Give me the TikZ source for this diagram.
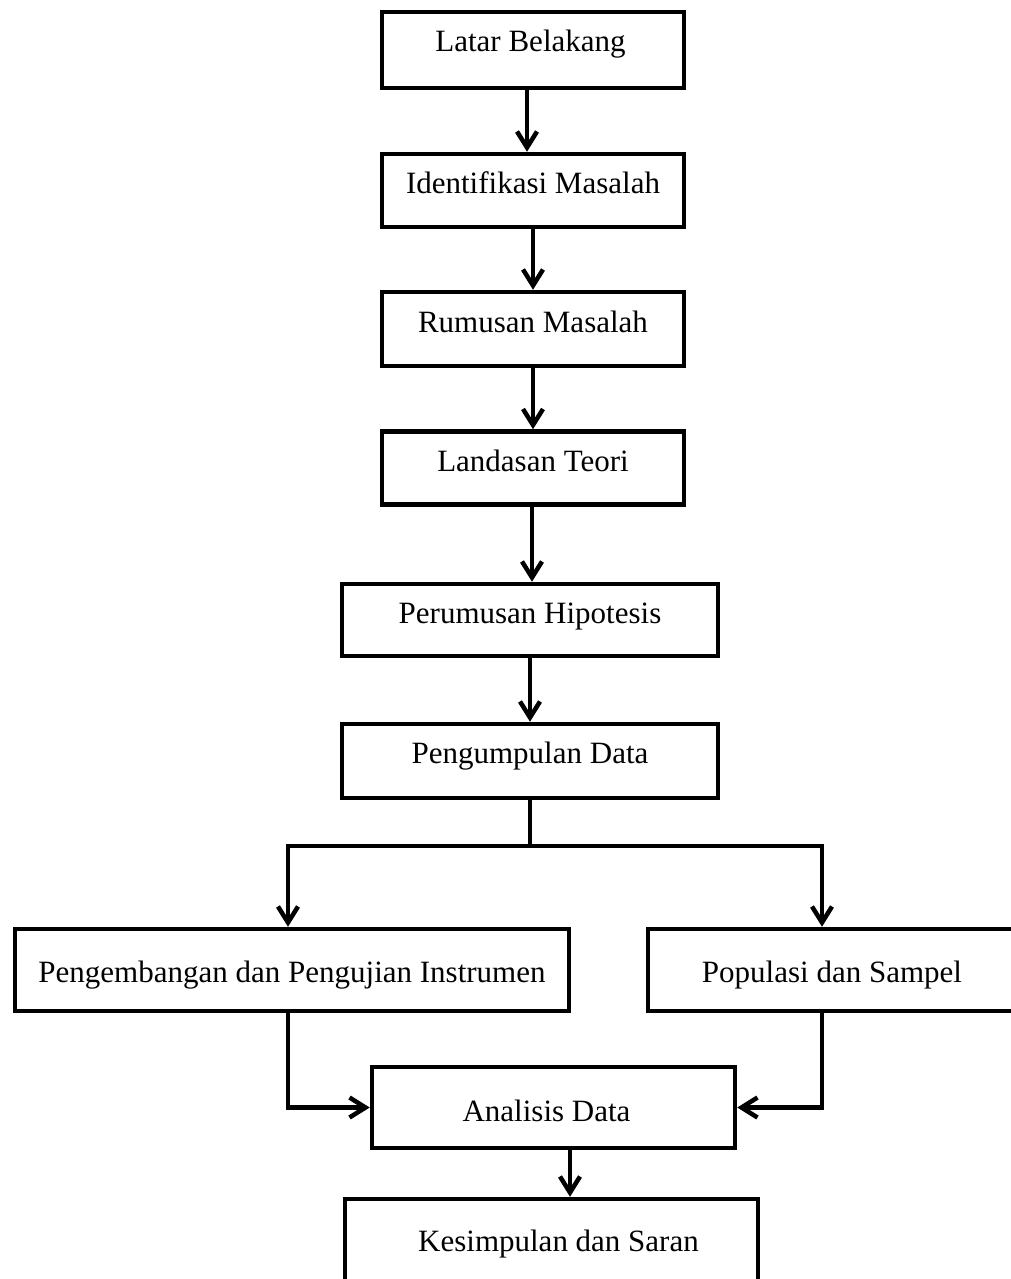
\documentclass[tikz,border=0pt]{standalone}
\usepackage{fontspec}
\setmainfont{Liberation Serif}
\usetikzlibrary{arrows.meta}
\tikzset{
  box/.style={draw=black, line width=4.5pt, fill=white, rectangle, inner sep=0pt,
    line join=miter, font=\fontsize{31}{37}\selectfont, text height=30pt},
  conn/.style={draw=black, line width=4.5pt, line join=miter},
  arr/.style={conn, -{Straight Barb[length=16pt,width=20pt]}}
}
\begin{document}
\begin{tikzpicture}[x=1pt,y=-1pt]
\useasboundingbox (0,0) rectangle (1011,1279);
\clip (0,0) rectangle (1011,1279);
\fill[white] (0,0) rectangle (1011,1279);
% boxes
\node[box, minimum width=302pt, minimum height=76pt, text depth=26pt] (b1) at (533,50) {Latar Belakang\kern5pt};
\node[box, minimum width=302pt, minimum height=73pt, text depth=25pt] (b2) at (533,190.5) {Identifikasi Masalah};
\node[box, minimum width=302pt, minimum height=74pt, text depth=24pt] (b3) at (533,329) {Rumusan Masalah};
\node[box, minimum width=302pt, minimum height=73pt, text depth=24pt] (b4) at (533,468) {Landasan Teori};
\node[box, minimum width=376pt, minimum height=72pt, text depth=24pt] (b5) at (530,620) {Perumusan Hipotesis};
\node[box, minimum width=376pt, minimum height=74pt, text depth=26pt] (b6) at (530,761) {Pengumpulan Data};
\node[box, minimum width=554pt, minimum height=82pt, text depth=6pt] (b7) at (292,970) {Pengembangan dan Pengujian Instrumen};
\node[box, minimum width=368pt, minimum height=82pt, text depth=6pt] (b8) at (832,970) {Populasi dan Sampel};
\node[box, minimum width=363pt, minimum height=81pt, text depth=3pt] (b9) at (553.5,1107.5) {Analisis Data\kern14pt};
\node[box, minimum width=413pt, minimum height=101pt, text depth=27pt] (b10) at (551.5,1249.5) {\kern14pt Kesimpulan dan Saran};
% connector points
\coordinate (split) at (530,846);
\coordinate (jl) at (288,846);
\coordinate (jr) at (822,846);
% connectors
\draw[arr] ([xshift=-6pt]b1.south) -- ([xshift=-6pt]b2.north);
\draw[arr] (b2.south) -- (b3.north);
\draw[arr] (b3.south) -- (b4.north);
\draw[arr] ([xshift=-1pt]b4.south) -- ([xshift=-1pt]b4.south |- b5.north);
\draw[arr] (b5.south) -- (b6.north);
\draw[conn] (b6.south) -- (split);
\draw[arr] (split) -- (jl) -- (jl |- b7.north);
\draw[arr] (split) -- (jr) -- (jr |- b8.north);
\draw[arr] (jl |- b7.south) |- (b9.west);
\draw[arr] (jr |- b8.south) |- (b9.east);
\draw[arr] ([xshift=16.5pt]b9.south) -- ([xshift=16.5pt]b9.south |- b10.north);
\end{tikzpicture}
\end{document}
